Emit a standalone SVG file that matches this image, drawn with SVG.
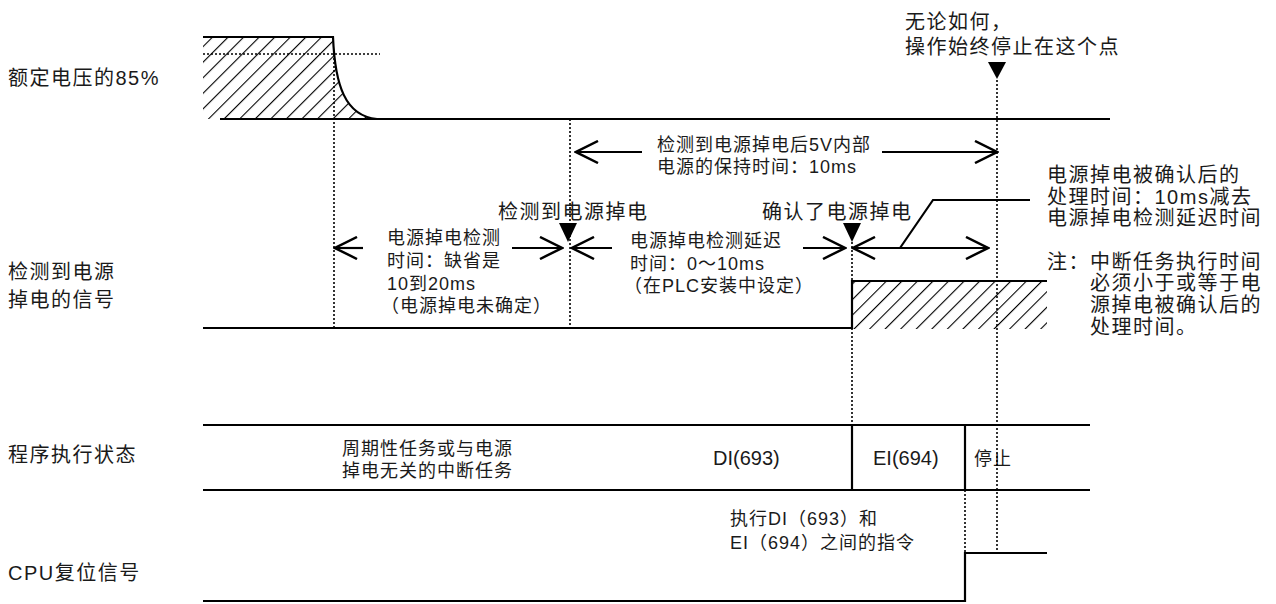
<svg xmlns="http://www.w3.org/2000/svg" width="1276" height="604" viewBox="0 0 1276 604">
<style>
.ln{stroke:#000;stroke-width:2.2;fill:none}
.dot{stroke:#000;stroke-width:1.6;stroke-dasharray:2 2;fill:none}
.ar{stroke:#000;stroke-width:2.2;fill:none;marker-end:url(#open)}
.tri{fill:#000}
text{font-family:"Liberation Sans","Noto Sans CJK SC",sans-serif;fill:#1a1a1a}
.s{font-size:18px;letter-spacing:1px}
.l{font-size:20px;letter-spacing:1.5px}
</style>
<defs>
<pattern id="hatch" patternUnits="userSpaceOnUse" width="11" height="11" patternTransform="rotate(45)">
<line x1="0" y1="-2" x2="0" y2="13" stroke="#000" stroke-width="2.2"/>
</pattern>
<marker id="open" markerUnits="userSpaceOnUse" viewBox="0 0 26 24" refX="24" refY="12" markerWidth="26" markerHeight="24" orient="auto">
<path d="M2,1 L24,12 L2,23" fill="none" stroke="#000" stroke-width="2.5"/>
</marker>
</defs>
<rect width="1276" height="604" fill="#fff"/>

<g id="labels">
<text class="l" x="8" y="85">额定电压的85%</text>
<text class="l" x="8" y="279">检测到电源</text>
<text class="l" x="8" y="307">掉电的信号</text>
<text class="l" x="8" y="462">程序执行状态</text>
<text class="l" x="8" y="580">CPU复位信号</text>
</g>

<g id="sig-voltage">
<path d="M203,37 H333 C335,85 345,116 377,119 H203 Z" fill="url(#hatch)" stroke="none"/>
<path class="ln" d="M203,37 H333 C335,85 345,116 377,119"/>
<line class="ln" x1="220" y1="119" x2="1110" y2="119"/>
<line class="dot" x1="203" y1="54" x2="380" y2="54"/>
</g>

<g id="sig-detect">
<rect x="852" y="281" width="195" height="48" fill="url(#hatch)"/>
<path class="ln" d="M203,328 H852 V281 H1047"/>
</g>

<g id="sig-program">
<line class="ln" x1="203" y1="425" x2="1090" y2="425"/>
<line class="ln" x1="203" y1="490" x2="1090" y2="490"/>
<line class="ln" x1="852" y1="425" x2="852" y2="490"/>
<line class="ln" x1="965" y1="425" x2="965" y2="490"/>
<text class="s" x="342" y="454.5">周期性任务或与电源</text>
<text class="s" x="342" y="476.5">掉电无关的中断任务</text>
<text style="font-size:20px" x="713" y="465">DI(693)</text>
<text style="font-size:20px" x="873" y="465">EI(694)</text>
<text class="s" x="974" y="465">停止</text>
</g>

<g id="sig-cpu">
<path class="ln" d="M203,601 H965 V553 H1047"/>
<text class="s" x="730" y="524.5">执行DI（693）和</text>
<text class="s" x="730" y="548.5">EI（694）之间的指令</text>
</g>

<g id="markers">
<line class="dot" x1="334" y1="54" x2="334" y2="328"/>
<line class="dot" x1="570" y1="119" x2="570" y2="328"/>
<line class="dot" x1="852" y1="242" x2="852" y2="281"/>
<line class="dot" x1="852" y1="328" x2="852" y2="425"/>
<line class="dot" x1="965" y1="490" x2="965" y2="553"/>
<line class="dot" x1="997" y1="80" x2="997" y2="553"/>
<polygon class="tri" points="559,223 577,223 568,242"/>
<polygon class="tri" points="843,223 861,223 852,242"/>
<polygon class="tri" points="988,62 1006,62 997,79"/>
</g>

<g id="note-stop">
<text class="l" x="905" y="29">无论如何，</text>
<text class="l" x="905" y="54">操作始终停止在这个点</text>
</g>

<g id="note-detected">
<text class="l" x="498" y="219">检测到电源掉电</text>
</g>
<g id="note-confirmed">
<text class="l" x="762" y="219">确认了电源掉电</text>
</g>

<g id="note-hold">
<text class="s" x="657" y="151">检测到电源掉电后5V内部</text>
<text class="s" x="657" y="173">电源的保持时间：10ms</text>
</g>

<g id="note-detect-time">
<text class="s" x="387" y="243.5">电源掉电检测</text>
<text class="s" x="387" y="266.5">时间：缺省是</text>
<text class="s" x="387" y="289.5">10到20ms</text>
<text class="s" x="381" y="311.5">（电源掉电未确定）</text>
</g>

<g id="note-delay">
<text class="s" x="630" y="246.5">电源掉电检测延迟</text>
<text class="s" x="630" y="269.5">时间：0～10ms</text>
<text class="s" x="624" y="292">（在PLC安装中设定）</text>
</g>

<g id="note-process">
<text class="l" x="1047" y="182">电源掉电被确认后的</text>
<text class="l" x="1047" y="204">处理时间：10ms减去</text>
<text class="l" x="1047" y="225">电源掉电检测延迟时间</text>
<text class="l" x="1047" y="269">注：</text>
<text class="l" x="1090" y="269">中断任务执行时间</text>
<text class="l" x="1090" y="290">必须小于或等于电</text>
<text class="l" x="1090" y="312">源掉电被确认后的</text>
<text class="l" x="1090" y="334">处理时间。</text>
</g>

<g id="connectors">
<line class="ar" x1="642" y1="152" x2="576" y2="152"/>
<line class="ar" x1="882" y1="152" x2="997" y2="152"/>
<line class="ar" x1="363" y1="248" x2="335" y2="248"/>
<line class="ar" x1="512" y1="248" x2="562" y2="248"/>
<line class="ar" x1="612" y1="248" x2="572" y2="248"/>
<line class="ar" x1="803" y1="248" x2="845" y2="248"/>
<line class="ar" x1="900" y1="248" x2="853" y2="248"/>
<line class="ar" x1="900" y1="248" x2="988" y2="248"/>
<polyline class="ln" points="900,248 933,200 1030,200"/>
</g>
</svg>
